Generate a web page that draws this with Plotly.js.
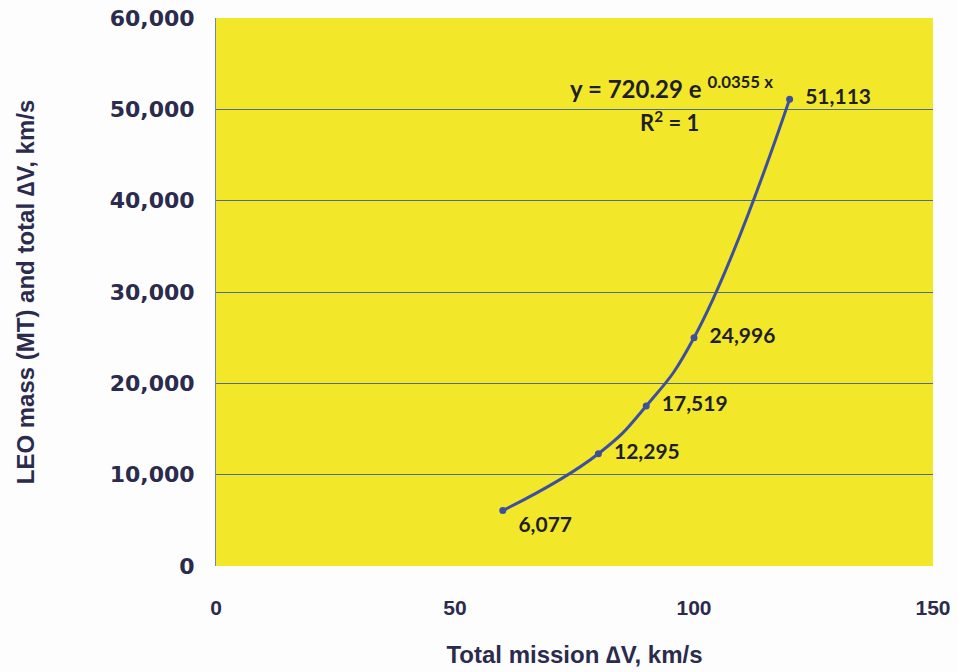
<!DOCTYPE html>
<html><head><meta charset="utf-8">
<script src="https://cdn.plot.ly/plotly-3.0.1.min.js"></script>
<style>html,body{margin:0;padding:0;background:#fdfdfd;}#chart{width:958px;height:672px;}</style>
</head><body><div id="chart"></div>
<script>
var deltaV = [60, 80, 90, 100, 120];
var leoMass = [6077, 12295, 17519, 24996, 51113];
var labelPos = ['bottom right', 'middle right', 'middle right', 'middle right', 'middle right'];
var xTicks = [0, 50, 100, 150];
var yTicks = [0, 10000, 20000, 30000, 40000, 50000, 60000];
var yTickText = ['0', '10,000', '20,000', '30,000', '40,000', '50,000', '60,000'];

var labels = leoMass.map(function(v){ return '  ' + v.toLocaleString('en-US'); });
var navy = '#2b2b4d';

var trace = {
  x: deltaV, y: leoMass, mode: 'lines+markers+text', type: 'scatter',
  line: {color: '#3f4f9f', width: 3, shape: 'spline', smoothing: 1.3},
  marker: {color: '#3f4f9f', size: 7},
  text: labels, textposition: labelPos,
  textfont: {family: 'Lato, "Open Sans", sans-serif', size: 21, color: '#1f1f2a', weight: 'bold'},
  hoverinfo: 'x+y', showlegend: false, cliponaxis: false
};

var layout = {
  width: 958, height: 672,
  paper_bgcolor: '#fdfdfd', plot_bgcolor: '#f2e829',
  margin: {l: 216, r: 25, t: 18, b: 106},
  xaxis: {
    range: [0, 150], tickvals: xTicks, ticktext: xTicks.map(String),
    showgrid: false, zeroline: false, showline: false, ticks: '',
    ticklabelstandoff: 27,
    tickfont: {family: '"Liberation Sans Narrow", "Liberation Sans", Arial, sans-serif', size: 21, color: navy, weight: 'bold'},
    title: {text: 'Total mission \u2206V, km/s', standoff: 28,
      font: {family: '"Liberation Sans", Arial, sans-serif', size: 24, color: navy, weight: 'bold'}}
  },
  yaxis: {
    range: [0, 60000], tickvals: yTicks, ticktext: yTickText,
    showgrid: true, gridcolor: '#4f6d8c', gridwidth: 1,
    zeroline: false, showline: true, linecolor: '#6f88a8', linewidth: 1, ticks: '',
    ticklabelstandoff: 16,
    tickfont: {family: '"DejaVu Sans", Verdana, sans-serif', size: 22, color: navy, weight: 'bold'},
    title: {text: 'LEO mass (MT) and total \u2206V, km/s', standoff: 68,
      font: {family: '"Liberation Sans", Arial, sans-serif', size: 24, color: navy, weight: 'bold'}}
  },
  annotations: [
    {xref: 'paper', yref: 'paper', x: 0.635, y: 0.874, xanchor: 'center', yanchor: 'middle', showarrow: false,
     text: 'y = 720.29 e <sup>0.0355 x</sup>',
     font: {family: 'Lato, "Open Sans", sans-serif', size: 24, color: '#1f1f2a', weight: 'bold'}},
    {xref: 'paper', yref: 'paper', x: 0.633, y: 0.812, xanchor: 'center', yanchor: 'middle', showarrow: false,
     text: 'R<sup>2</sup> = 1',
     font: {family: 'Lato, "Open Sans", sans-serif', size: 22, color: '#1f1f2a', weight: 'bold'}}
  ]
};

Plotly.newPlot('chart', [trace], layout, {displayModeBar: false});
</script></body></html>
